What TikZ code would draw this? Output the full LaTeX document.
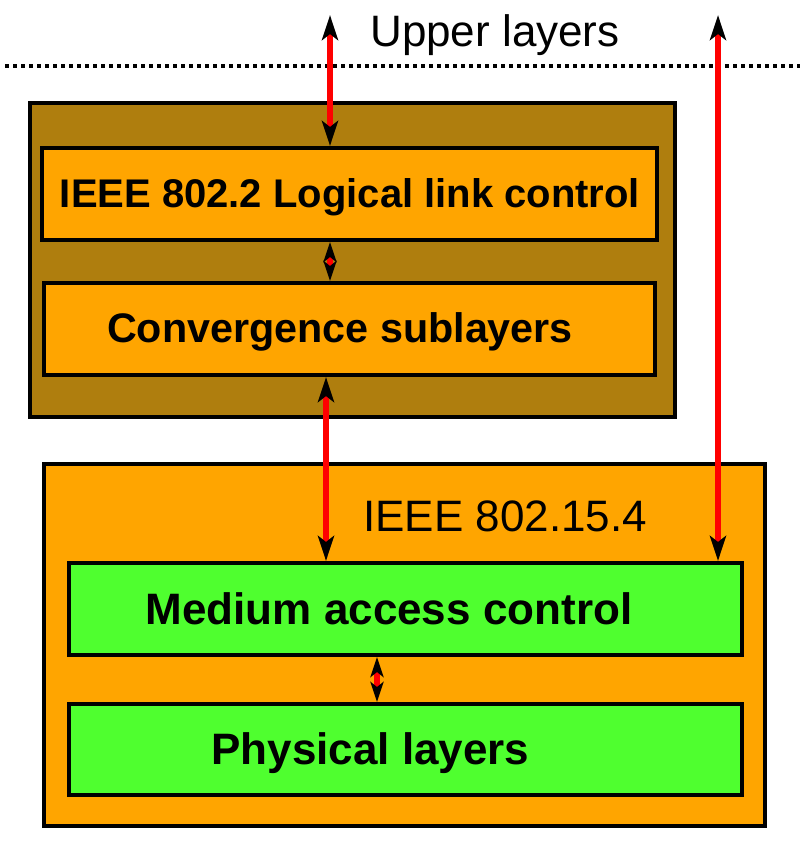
\documentclass[tikz,border=0pt]{standalone}
\usepackage{fontspec}
\setmainfont{Liberation Sans}
\usetikzlibrary{arrows.meta,positioning}
\definecolor{llcbrown}{HTML}{AF7E0E}
\definecolor{layerorange}{HTML}{FFA500}
\definecolor{layergreen}{HTML}{4FFF2F}
\newcommand\bigtip{Stealth[black,length=25pt,width=16pt,inset=6pt]}
\newcommand\smalltip{Stealth[black,length=20pt,width=13pt,inset=5pt]}

\begin{document}
\begin{tikzpicture}[x=1pt,y=-1pt,
	layer/.style={draw=black, line width=4pt, inner sep=0pt, rectangle},
	boldtxt/.style={font=\fontsize{#1}{46}\selectfont\bfseries, inner sep=0pt, anchor=base},
	plaintxt/.style={font=\fontsize{44}{50}\selectfont, inner sep=0pt, anchor=base},
	link/.style={draw=red, line width=6pt}]
	%% canvas
	\useasboundingbox (0,0) rectangle (800,849);

	% upper layers border
	\coordinate (dotleft) at (5,66);
	\coordinate (dotright) at (800,66);
	\draw[line width=4pt, dash pattern=on 4pt off 4pt] (dotleft) -- (dotright);
	\node[plaintxt] (upper) at (495,46) {Upper layers};

	% LLC part
	\node[layer, fill=llcbrown, minimum width=645, minimum height=314] (llcpart) at (352.5,260) {};
	\node[layer, fill=layerorange, minimum width=615, minimum height=92] (llc) at (349.5,194) {};
	\node[layer, fill=layerorange, minimum width=611, minimum height=92] (conv) at (349.5,329) {};
	\node[boldtxt=40] (llctxt) at (350,207) {IEEE 802.2 Logical link control};
	\node[boldtxt=41.3] (convtxt) at (340,342) {Convergence sublayers};

	% 802.15.4 part
	\node[layer, fill=layerorange, minimum width=721, minimum height=362] (ieee) at (404.5,645) {};
	\node[plaintxt, anchor=base west] (ieeetxt) at (363,531) {IEEE 802.15.4};
	\node[layer, fill=layergreen, minimum width=673, minimum height=92] (mac) at (405.5,609) {};
	\node[layer, fill=layergreen, minimum width=673, minimum height=91] (phy) at (405.5,749.5) {};
	\node[boldtxt=44] (mactxt) at (389,624) {Medium access control};
	\node[boldtxt=44] (phytxt) at (370.5,764) {Physical layers};

	% links
	\coordinate (upllc) at (330,15);
	\coordinate (upmac) at (718,15);
	\coordinate (convmac) at (326,0);
	\coordinate (macphy) at (377,0);
	\begin{scope}[link]
		\draw[{\bigtip}-{\bigtip}] (upllc) -- (upllc |- llc.north);
		\draw[{\smalltip}-{\smalltip}] (upllc |- llc.south) -- (upllc |- conv.north);
		\draw[{\bigtip}-{\bigtip}] (convmac |- conv.south) -- (convmac |- mac.north);
		\draw[{\bigtip}-{\bigtip}] (upmac) -- (upmac |- mac.north);
		\draw[{\smalltip}-{\smalltip}] (macphy |- mac.south) -- (macphy |- phy.north);
	\end{scope}
\end{tikzpicture}
\end{document}
